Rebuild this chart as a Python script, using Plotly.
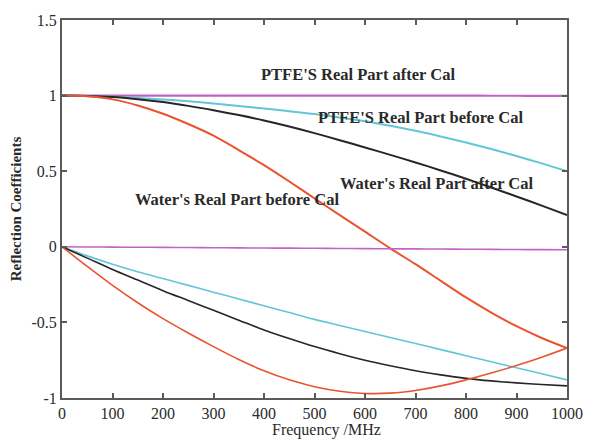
import plotly.graph_objects as go

# Frequency grid (MHz)
freq = [0, 50, 100, 150, 200, 250, 300, 350, 400, 450, 500, 550, 600, 650, 700, 750, 800, 850, 900, 950, 1000]

# Real parts
ptfe_real_after = [1.0, 1.0, 1.0, 1.0, 1.0, 1.0, 1.0, 1.0, 1.0, 1.0, 1.0, 1.0, 1.0, 1.0, 1.0, 1.0, 1.0, 0.999, 0.999, 0.998, 0.998]
ptfe_real_before = [1.0, 0.998, 0.992, 0.984, 0.975, 0.963, 0.948, 0.932, 0.915, 0.897, 0.878, 0.855, 0.83, 0.80, 0.767, 0.73, 0.69, 0.647, 0.60, 0.552, 0.50]
water_real_after = [1.0, 0.997, 0.99, 0.976, 0.957, 0.932, 0.903, 0.871, 0.836, 0.796, 0.752, 0.705, 0.657, 0.608, 0.558, 0.505, 0.45, 0.392, 0.333, 0.272, 0.21]
water_real_before = [1.0, 0.995, 0.975, 0.935, 0.88, 0.812, 0.735, 0.64, 0.54, 0.432, 0.32, 0.21, 0.10, -0.01, -0.115, -0.225, -0.335, -0.435, -0.525, -0.603, -0.67]

# Imaginary parts
ptfe_imag_after = [0.0, -0.001, -0.002, -0.003, -0.004, -0.005, -0.006, -0.007, -0.008, -0.009, -0.010, -0.011, -0.012, -0.013, -0.014, -0.015, -0.016, -0.017, -0.018, -0.019, -0.02]
ptfe_imag_before = [0.0, -0.06, -0.115, -0.165, -0.21, -0.255, -0.30, -0.345, -0.39, -0.435, -0.48, -0.52, -0.56, -0.60, -0.64, -0.68, -0.72, -0.76, -0.80, -0.84, -0.88]
water_imag_after = [0.0, -0.075, -0.15, -0.22, -0.29, -0.355, -0.42, -0.485, -0.55, -0.607, -0.66, -0.707, -0.75, -0.787, -0.82, -0.847, -0.87, -0.887, -0.90, -0.911, -0.92]
water_imag_before = [0.0, -0.13, -0.255, -0.37, -0.475, -0.57, -0.66, -0.745, -0.82, -0.88, -0.925, -0.955, -0.97, -0.968, -0.95, -0.92, -0.88, -0.835, -0.785, -0.73, -0.67]

x_ticks = [0, 100, 200, 300, 400, 500, 600, 700, 800, 900, 1000]
y_ticks = [-1, -0.5, 0, 0.5, 1, 1.5]
y_tick_text = ["-1", "-0.5", "0", "0.5", "1", "1.5"]

labels = [
    ("PTFE'S Real Part after Cal", 587, 1.14),
    ("PTFE'S Real Part before Cal", 710, 0.855),
    ("Water's Real Part after Cal", 742, 0.42),
    ("Water's Real Part before Cal", 346, 0.31),
]

RED = "#E9532F"
CYAN = "#62C6D6"
BLACK = "#262626"
MAGENTA = "#C463C6"

series = [
    (ptfe_real_after, MAGENTA, 2.2),
    (ptfe_real_before, CYAN, 2.0),
    (water_real_after, BLACK, 2.0),
    (water_real_before, RED, 2.0),
    (ptfe_imag_after, MAGENTA, 1.6),
    (ptfe_imag_before, CYAN, 1.6),
    (water_imag_after, BLACK, 1.6),
    (water_imag_before, RED, 1.6),
]

fig = go.Figure()
for ys, color, w in series:
    fig.add_trace(go.Scatter(
        x=freq, y=ys, mode="lines",
        line=dict(color=color, width=w, shape="spline", smoothing=0.8),
        showlegend=False, hoverinfo="skip",
    ))

for text, xv, yv in labels:
    fig.add_annotation(
        x=xv, y=yv, text="<b>" + text + "</b>", showarrow=False,
        font=dict(family="Liberation Serif", size=16.5, color="#2a2a2a"),
        xanchor="center", yanchor="middle",
    )

# x-axis title placed at the bottom edge, slightly right of the plot centre
fig.add_annotation(
    xref="paper", yref="paper", x=0.523, y=-0.112,
    text="Frequency /MHz", showarrow=False, borderpad=0,
    font=dict(family="Liberation Serif", size=16, color="#2a2a2a"),
    xanchor="center", yanchor="bottom",
)

axis_common = dict(
    showline=True, linecolor="#5a5a5a", linewidth=2, mirror="ticks",
    ticks="inside", ticklen=5, tickwidth=1.5, tickcolor="#5a5a5a",
    showgrid=False, zeroline=False,
    tickfont=dict(family="Liberation Serif", size=16, color="#2a2a2a"),
)

fig.update_layout(
    width=595, height=441,
    margin=dict(l=62, r=22, t=15, b=43),
    paper_bgcolor="white", plot_bgcolor="white",
    xaxis=dict(range=[0, 1000], tickvals=x_ticks, **axis_common),
    yaxis=dict(
        range=[-1, 1.5], tickvals=y_ticks, ticktext=y_tick_text,
        title=dict(text="<b>Reflection Coefficients</b>", standoff=6,
                   font=dict(family="Liberation Serif", size=15, color="#2a2a2a")),
        **axis_common,
    ),
)

fig.write_html("out.html")
